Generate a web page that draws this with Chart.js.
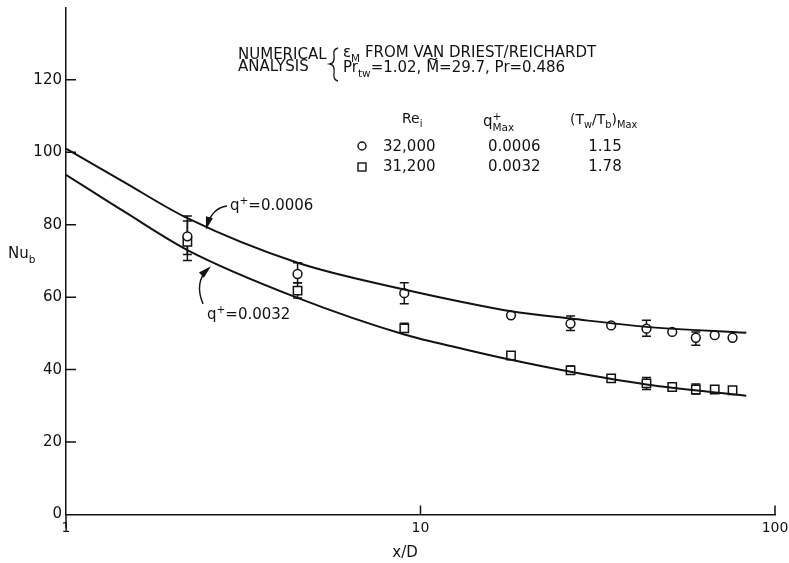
<!DOCTYPE html>
<html>
<head>
<meta charset="utf-8">
<script src="https://cdn.jsdelivr.net/npm/chart.js@4.4.1/dist/chart.umd.min.js"></script>
<style>
  html, body { margin: 0; padding: 0; background: #fff; }
  #wrap { width: 789px; height: 563px; position: relative; }
</style>
</head>
<body>
<div id="wrap"><canvas id="nuChart"></canvas></div>
<script>
// measured stations (x/D) and Nu_b values
const xStations = [2.2, 4.5, 9, 18, 26.5, 34.5, 43.4, 51.3, 59.8, 67.6, 75.9];
const nuCircle  = [76.8, 66.4, 61.1, 55.0, 52.7, 52.2, 51.3, 50.4, 48.8, 49.5, 48.8];
const nuSquare  = [75.3, 61.8, 51.4, 43.9, 39.8, 37.6, 36.2, 35.2, 34.5, 34.5, 34.3];
// error bar ranges (null = no bar)
const circleLow  = [71.8, 64.0, 58.2, null, 50.8, null, 49.2, null, 46.7, null, null];
const circleHigh = [82.4, 69.5, 64.0, null, 54.8, null, 53.6, null, 50.4, null, null];
const squareLow  = [70.1, 59.8, 50.5, null, 38.8, null, 34.5, null, 33.3, null, null];
const squareHigh = [81.0, 64.0, 52.8, null, 41.0, null, 37.8, null, 36.0, null, null];
// numerical analysis curves
const curveX = [1, 1.45, 2.2, 4.5, 9, 13.2, 18, 26.5, 43.4, 83];
const curveLowQ  = [101, 91.9, 81.8, 69.5, 62.1, 58.6, 56.1, 54.1, 51.8, 50.2];  // q+ = 0.0006
const curveHighQ = [93.8, 83.8, 73.0, 59.8, 49.7, 45.7, 42.7, 39.4, 35.9, 32.8]; // q+ = 0.0032
// axis ticks
const xTickVals = [1, 10, 100];
const yTickVals = [0, 20, 40, 60, 80, 100, 120];

const INK = '#121212';
const FONT = '"DejaVu Sans", "Liberation Sans", sans-serif';

const pts = (xs, ys) => xs.map((x, i) => ({ x: x, y: ys[i] }));

// text with sub/superscripts: parts = [[text, mode]], mode '', 'sub', 'sup', 'tilde' or 'stack' ([sup, sub])
function richText(ctx, parts, x, y, size) {
  let cx = x;
  const small = size * 0.7;
  parts.forEach(([t, m]) => {
    if (m === 'stack') {
      ctx.font = small + 'px ' + FONT;
      ctx.fillText(t[0], cx, y - size * 0.42);
      ctx.fillText(t[1], cx, y + size * 0.32);
      cx += Math.max(ctx.measureText(t[0]).width, ctx.measureText(t[1]).width);
      return;
    }
    ctx.font = ((m === 'sub' || m === 'sup') ? small : size) + 'px ' + FONT;
    const dy = m === 'sub' ? size * 0.32 : m === 'sup' ? -size * 0.42 : 0;
    ctx.fillText(t, cx, y + dy);
    const w = ctx.measureText(t).width;
    if (m === 'tilde') {
      ctx.save();
      ctx.lineWidth = 1.2;
      ctx.beginPath();
      const ty = y - size * 0.86;
      ctx.moveTo(cx + 2, ty + 1);
      ctx.quadraticCurveTo(cx + w * 0.3, ty - 1.5, cx + w * 0.5, ty);
      ctx.quadraticCurveTo(cx + w * 0.7, ty + 1.5, cx + w - 2, ty - 1);
      ctx.stroke();
      ctx.restore();
    }
    cx += w;
  });
  return cx;
}

function arrow(ctx, x0, y0, cx, cy, x1, y1) {
  ctx.beginPath();
  ctx.moveTo(x0, y0);
  ctx.quadraticCurveTo(cx, cy, x1, y1);
  ctx.stroke();
  const a = Math.atan2(y1 - cy, x1 - cx);
  const L = 9, W = 3.6;
  ctx.beginPath();
  ctx.moveTo(x1 + Math.cos(a) * 4, y1 + Math.sin(a) * 4);
  ctx.lineTo(x1 - Math.cos(a) * L + Math.sin(a) * W, y1 - Math.sin(a) * L - Math.cos(a) * W);
  ctx.lineTo(x1 - Math.cos(a) * L - Math.sin(a) * W, y1 - Math.sin(a) * L + Math.cos(a) * W);
  ctx.closePath();
  ctx.fill();
}

const errorBars = {
  id: 'errorBars',
  beforeDatasetsDraw(chart) {
    const { ctx, scales: { x, y } } = chart;
    ctx.save();
    ctx.strokeStyle = INK;
    ctx.lineWidth = 1.5;
    const draw = (lo, hi) => {
      xStations.forEach((xv, i) => {
        if (lo[i] == null) return;
        const px = x.getPixelForValue(xv);
        const y0 = y.getPixelForValue(lo[i]);
        const y1 = y.getPixelForValue(hi[i]);
        ctx.beginPath();
        ctx.moveTo(px, y0); ctx.lineTo(px, y1);
        ctx.moveTo(px - 4.5, y0); ctx.lineTo(px + 4.5, y0);
        ctx.moveTo(px - 4.5, y1); ctx.lineTo(px + 4.5, y1);
        ctx.stroke();
      });
    };
    draw(circleLow, circleHigh);
    draw(squareLow, squareHigh);
    ctx.restore();
  }
};

const annotations = {
  id: 'annotations',
  afterDraw(chart) {
    const { ctx, chartArea: ca, scales: { x, y } } = chart;
    ctx.save();
    ctx.fillStyle = INK;
    ctx.strokeStyle = INK;

    // inward tick marks
    ctx.lineWidth = 1.5;
    ctx.beginPath();
    yTickVals.slice(1).forEach(v => {
      const py = y.getPixelForValue(v);
      ctx.moveTo(ca.left, py); ctx.lineTo(ca.left + 10, py);
    });
    xTickVals.slice(1).forEach(v => {
      const px = x.getPixelForValue(v);
      ctx.moveTo(px, ca.bottom); ctx.lineTo(px, ca.bottom - 9);
    });
    ctx.moveTo(ca.left, ca.bottom); ctx.lineTo(ca.left, ca.bottom + 14);
    ctx.stroke();

    ctx.textBaseline = 'alphabetic';
    ctx.textAlign = 'left';

    // axis titles
    richText(ctx, [['Nu', ''], ['b', 'sub']], 8, 258, 15);
    ctx.font = '15px ' + FONT;
    ctx.textAlign = 'center';
    ctx.fillText('x/D', 405, 557);
    ctx.textAlign = 'left';

    // header block
    ctx.font = '15px ' + FONT;
    ctx.fillText('NUMERICAL', 238, 59);
    ctx.fillText('ANALYSIS', 238, 71);
    ctx.lineWidth = 1.3;
    ctx.beginPath();
    ctx.moveTo(338, 48);
    ctx.quadraticCurveTo(333, 49, 334, 55);
    ctx.quadraticCurveTo(335, 63, 330, 64);
    ctx.quadraticCurveTo(335, 65, 334, 73);
    ctx.quadraticCurveTo(333, 80, 338, 81);
    ctx.stroke();
    richText(ctx, [['\u03b5', ''], ['M', 'sub'], [' FROM VAN DRIEST/REICHARDT', '']], 343, 57, 15);
    richText(ctx, [['Pr', ''], ['tw', 'sub'], ['=1.02, ', ''], ['M', 'tilde'], ['=29.7, Pr=0.486', '']], 343, 72, 15);

    // legend table
    richText(ctx, [['Re', ''], ['i', 'sub']], 402, 123, 14);
    richText(ctx, [['q', ''], [['+', 'Max'], 'stack']], 483, 126, 15);
    richText(ctx, [['(T', ''], ['w', 'sub'], ['/T', ''], ['b', 'sub'], [')', ''], ['Max', 'sub']], 570, 124, 14);

    ctx.lineWidth = 1.4;
    ctx.beginPath();
    ctx.arc(362, 146, 4, 0, Math.PI * 2);
    ctx.stroke();
    ctx.strokeRect(358, 163, 8, 8);

    ctx.font = '15px ' + FONT;
    ctx.fillText('32,000', 383, 151);
    ctx.fillText('31,200', 383, 171);
    ctx.fillText('0.0006', 488, 151);
    ctx.fillText('0.0032', 488, 171);
    ctx.textAlign = 'center';
    ctx.fillText('1.15', 605, 151);
    ctx.fillText('1.78', 605, 171);
    ctx.textAlign = 'left';

    // curve labels
    richText(ctx, [['q', ''], ['+', 'sup'], ['=0.0006', '']], 230, 210, 15);
    richText(ctx, [['q', ''], ['+', 'sup'], ['=0.0032', '']], 207, 319, 15);
    ctx.lineWidth = 1.4;
    arrow(ctx, 227, 206, 212, 208, 207, 226);
    arrow(ctx, 203, 304, 194, 282, 208, 269);

    ctx.restore();
  }
};

new Chart(document.getElementById('nuChart'), {
  type: 'scatter',
  data: {
    datasets: [
      {
        type: 'line',
        data: pts(curveX, curveLowQ),
        borderColor: INK, borderWidth: 2,
        pointRadius: 0, fill: false,
        cubicInterpolationMode: 'monotone'
      },
      {
        type: 'line',
        data: pts(curveX, curveHighQ),
        borderColor: INK, borderWidth: 2,
        pointRadius: 0, fill: false,
        cubicInterpolationMode: 'monotone'
      },
      {
        label: 'Re 32,000',
        data: pts(xStations, nuCircle),
        pointStyle: 'circle', pointRadius: 4.4,
        backgroundColor: '#fff', borderColor: INK, borderWidth: 1.5
      },
      {
        label: 'Re 31,200',
        data: pts(xStations, nuSquare),
        pointStyle: 'rect', pointRadius: 5.9,
        backgroundColor: '#fff', borderColor: INK, borderWidth: 1.5
      }
    ]
  },
  options: {
    responsive: true,
    maintainAspectRatio: false,
    animation: false,
    devicePixelRatio: 1,
    layout: { padding: { top: 7, right: 14, left: 0, bottom: 0 } },
    plugins: { legend: { display: false }, tooltip: { enabled: false } },
    scales: {
      x: {
        type: 'logarithmic',
        min: 1, max: 100,
        afterBuildTicks: s => { s.ticks = xTickVals.map(v => ({ value: v })); },
        afterFit: s => { s.height = 48.5; s.paddingLeft = 0; s.paddingRight = 0; },
        grid: { display: false, drawTicks: false },
        border: { display: true, color: INK, width: 1.5 },
        ticks: {
          color: INK, font: { family: FONT, size: 14 }, padding: 5,
          maxRotation: 0, autoSkip: false,
          callback: v => String(v)
        }
      },
      y: {
        min: 0, max: 140,
        afterBuildTicks: s => { s.ticks = yTickVals.map(v => ({ value: v })); },
        afterFit: s => { s.width = 66; s.paddingTop = 0; s.paddingBottom = 0; },
        grid: { display: false, drawTicks: false },
        border: { display: true, color: INK, width: 1.5 },
        ticks: {
          color: INK, font: { family: FONT, size: 15 }, padding: 4
        }
      }
    }
  },
  plugins: [errorBars, annotations]
});
</script>
</body>
</html>
